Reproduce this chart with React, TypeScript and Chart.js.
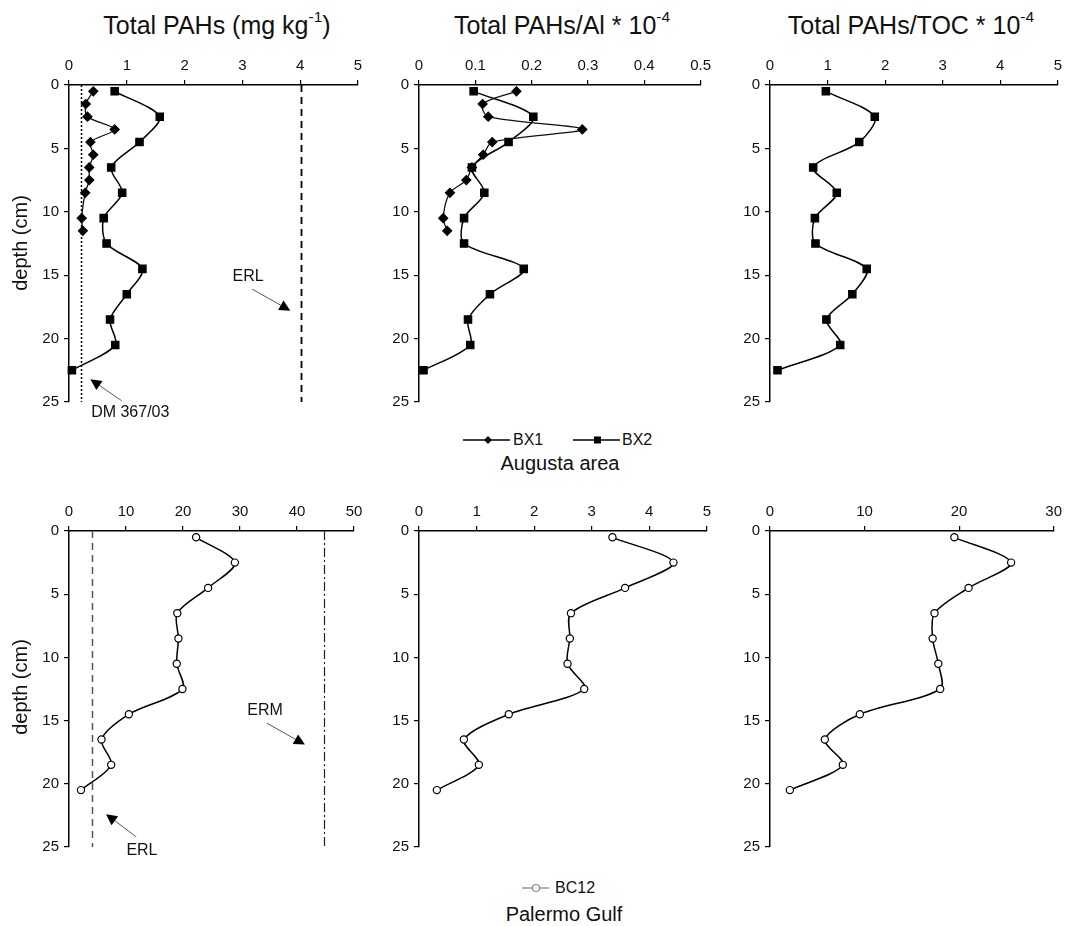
import React, { useEffect, useRef } from "react";
import { Chart, registerables } from "chart.js";

Chart.register(...registerables);

if (typeof document !== "undefined") {
  document.body.style.margin = "0";
  document.documentElement.style.overflow = "hidden";
}

const FONT = "'Liberation Sans', Arial, Helvetica, sans-serif";

// ---------- data ----------
// sampling depths (cm)
const depthBX1 = [0.5, 1.5, 2.5, 3.5, 4.5, 5.5, 6.5, 7.5, 8.5, 10.5, 11.5];
const depthBX2 = [0.5, 2.5, 4.5, 6.5, 8.5, 10.5, 12.5, 14.5, 16.5, 18.5, 20.5, 22.5];
const depthBC12 = [0.5, 2.5, 4.5, 6.5, 8.5, 10.5, 12.5, 14.5, 16.5, 18.5, 20.5];

// Augusta area
const bx1Total = [0.42, 0.29, 0.32, 0.79, 0.37, 0.42, 0.35, 0.35, 0.28, 0.22, 0.24];
const bx2Total = [0.79, 1.57, 1.22, 0.73, 0.92, 0.6, 0.65, 1.27, 1.0, 0.71, 0.8, 0.05];
const bx1Al = [0.173, 0.113, 0.123, 0.29, 0.13, 0.114, 0.094, 0.084, 0.055, 0.043, 0.05];
const bx2Al = [0.097, 0.203, 0.159, 0.094, 0.116, 0.08, 0.08, 0.186, 0.126, 0.087, 0.091, 0.008];
const bx2Toc = [0.97, 1.82, 1.55, 0.75, 1.16, 0.78, 0.79, 1.68, 1.43, 0.98, 1.22, 0.13];

// Palermo Gulf
const bc12Total = [22.3, 29.1, 24.4, 19.0, 19.2, 18.9, 19.9, 10.5, 5.7, 7.4, 2.1];
const bc12Al = [3.36, 4.42, 3.58, 2.64, 2.62, 2.58, 2.87, 1.56, 0.78, 1.04, 0.31];
const bc12Toc = [19.5, 25.5, 21.0, 17.4, 17.2, 17.8, 18.0, 9.5, 5.8, 7.7, 2.1];

// guideline values (mg/kg)
const dmLimit = 0.2;
const erlValue = 4.022;
const ermValue = 44.792;

// axis ranges
const depthMax = 25;
const depthStep = 5;
const xRanges = {
  totalA: { max: 5, step: 1 },
  alA: { max: 0.5, step: 0.1 },
  tocA: { max: 5, step: 1 },
  totalP: { max: 50, step: 10 },
  alP: { max: 5, step: 1 },
  tocP: { max: 30, step: 10 },
};

// ---------- styles ----------
const BX1_STYLE = { pointStyle: "rectRot", pointRadius: 4.5, fill: "#000", stroke: "#000", line: "#111", lw: 1.3 };
const BX2_STYLE = { pointStyle: "rect", pointRadius: 5.2, fill: "#000", stroke: "#000", line: "#000", lw: 1.5 };
const BC12_STYLE = { pointStyle: "circle", pointRadius: 3.6, fill: "#fff", stroke: "#000", line: "#000", lw: 1.5 };

type Series = { depth: number[]; values: number[]; style: any };
type RefLine = { value: number; dash: number[]; width: number; color: string };
type Note = { text: string; tx: number; ty: number; x1: number; y1: number; x2: number; y2: number };

type PanelDef = {
  left: number; top: number; width: number; height: number;
  yw: number; xh: number; pr: number; pb: number;
  range: { max: number; step: number };
  series: Series[];
  refs: RefLine[];
  notes: Note[];
};

function drawArrow(ctx: CanvasRenderingContext2D, x1: number, y1: number, x2: number, y2: number) {
  const ang = Math.atan2(y2 - y1, x2 - x1);
  const L = 11, W = 5.5;
  const bx = x2 - L * Math.cos(ang), by = y2 - L * Math.sin(ang);
  ctx.save();
  ctx.strokeStyle = "#555";
  ctx.lineWidth = 1;
  ctx.setLineDash([]);
  ctx.beginPath();
  ctx.moveTo(x1, y1);
  ctx.lineTo(bx, by);
  ctx.stroke();
  ctx.fillStyle = "#000";
  ctx.beginPath();
  ctx.moveTo(x2, y2);
  ctx.lineTo(bx + W * Math.sin(ang), by - W * Math.cos(ang));
  ctx.lineTo(bx - W * Math.sin(ang), by + W * Math.cos(ang));
  ctx.closePath();
  ctx.fill();
  ctx.restore();
}

function overlayPlugin(refs: RefLine[], notes: Note[]) {
  return {
    id: "overlay",
    beforeDatasetsDraw(chart: any) {
      const { ctx, scales } = chart;
      const xs = scales.x, ys = scales.y;
      refs.forEach((r) => {
        const px = Math.round(xs.getPixelForValue(r.value)) + 0.5;
        ctx.save();
        ctx.strokeStyle = r.color;
        ctx.lineWidth = r.width;
        ctx.setLineDash(r.dash);
        ctx.beginPath();
        ctx.moveTo(px, ys.getPixelForValue(0));
        ctx.lineTo(px, ys.getPixelForValue(depthMax));
        ctx.stroke();
        ctx.restore();
      });
    },
    afterDraw(chart: any) {
      const { ctx, scales } = chart;
      const xs = scales.x, ys = scales.y;
      notes.forEach((n) => {
        drawArrow(ctx, xs.getPixelForValue(n.x1), ys.getPixelForValue(n.y1), xs.getPixelForValue(n.x2), ys.getPixelForValue(n.y2));
        ctx.save();
        ctx.fillStyle = "#111";
        ctx.font = `16px ${FONT}`;
        ctx.textAlign = "center";
        ctx.textBaseline = "middle";
        ctx.fillText(n.text, xs.getPixelForValue(n.tx), ys.getPixelForValue(n.ty));
        ctx.restore();
      });
    },
  };
}

function makeConfig(p: PanelDef): any {
  const tickFont = { family: FONT, size: 15 };
  return {
    type: "scatter",
    data: {
      datasets: p.series.map((s) => ({
        data: s.depth.map((d, i) => ({ x: s.values[i], y: d })),
        showLine: true,
        borderColor: s.style.line,
        borderWidth: s.style.lw,
        pointStyle: s.style.pointStyle,
        pointRadius: s.style.pointRadius,
        pointBackgroundColor: s.style.fill,
        pointBorderColor: s.style.stroke,
        pointBorderWidth: 1.2,
        tension: 0.3,
        fill: false,
        clip: false,
      })),
    },
    options: {
      animation: false,
      responsive: false,
      maintainAspectRatio: false,
      layout: { padding: { left: 0, top: 0, right: p.pr, bottom: p.pb } },
      plugins: { legend: { display: false }, tooltip: { enabled: false }, title: { display: false } },
      scales: {
        x: {
          type: "linear",
          position: "top",
          min: 0,
          max: p.range.max,
          ticks: { stepSize: p.range.step, padding: 5, font: tickFont, color: "#111", maxRotation: 0, autoSkip: false },
          grid: { drawOnChartArea: false, drawTicks: true, tickLength: 5, color: "#000", lineWidth: 1.2 },
          border: { display: true, color: "#000", width: 1.5 },
          afterFit: (s: any) => { s.height = p.xh; },
        },
        y: {
          type: "linear",
          position: "left",
          reverse: true,
          min: 0,
          max: depthMax,
          ticks: { stepSize: depthStep, padding: 5, font: tickFont, color: "#111", autoSkip: false },
          grid: { drawOnChartArea: false, drawTicks: true, tickLength: 5, color: "#000", lineWidth: 1.2 },
          border: { display: true, color: "#000", width: 1.5 },
          afterFit: (s: any) => { s.width = p.yw; },
        },
      },
    },
    plugins: [overlayPlugin(p.refs, p.notes)],
  };
}

function Panel({ def }: { def: PanelDef }) {
  const ref = useRef<HTMLCanvasElement>(null);
  useEffect(() => {
    const chart = new Chart(ref.current as HTMLCanvasElement, makeConfig(def));
    return () => chart.destroy();
  }, []);
  return (
    <canvas
      ref={ref}
      width={def.width}
      height={def.height}
      style={{ position: "absolute", left: def.left, top: def.top, width: def.width, height: def.height }}
    />
  );
}

// ---------- layout (page coordinates) ----------
const TOP_Y = 50, TOP_H = 375, BOT_Y = 496, BOT_H = 374;

const panels: PanelDef[] = [
  {
    left: 8, top: TOP_Y, width: 362, height: TOP_H, yw: 61, xh: 35, pr: 12, pb: 23,
    range: xRanges.totalA,
    series: [
      { depth: depthBX1, values: bx1Total, style: BX1_STYLE },
      { depth: depthBX2, values: bx2Total, style: BX2_STYLE },
    ],
    refs: [
      { value: dmLimit, dash: [2, 2], width: 1.5, color: "#000" },
      { value: erlValue, dash: [7, 5], width: 1.8, color: "#000" },
    ],
    notes: [
      { text: "ERL", tx: 3.1, ty: 15.1, x1: 3.17, y1: 16.1, x2: 3.83, y2: 17.8 },
      { text: "DM 367/03", tx: 1.06, ty: 25.8, x1: 0.91, y1: 24.9, x2: 0.37, y2: 23.2 },
    ],
  },
  {
    left: 370, top: TOP_Y, width: 346, height: TOP_H, yw: 49, xh: 35, pr: 14, pb: 23,
    range: xRanges.alA,
    series: [
      { depth: depthBX1, values: bx1Al, style: BX1_STYLE },
      { depth: depthBX2, values: bx2Al, style: BX2_STYLE },
    ],
    refs: [],
    notes: [],
  },
  {
    left: 716, top: TOP_Y, width: 351, height: TOP_H, yw: 54, xh: 35, pr: 7, pb: 23,
    range: xRanges.tocA,
    series: [{ depth: depthBX2, values: bx2Toc, style: BX2_STYLE }],
    refs: [],
    notes: [],
  },
  {
    left: 8, top: BOT_Y, width: 362, height: BOT_H, yw: 61, xh: 35, pr: 16, pb: 23,
    range: xRanges.totalP,
    series: [{ depth: depthBC12, values: bc12Total, style: BC12_STYLE }],
    refs: [
      { value: erlValue, dash: [7, 5], width: 1.5, color: "#555" },
      { value: ermValue, dash: [9, 3, 2, 3], width: 1.2, color: "#222" },
    ],
    notes: [
      { text: "ERM", tx: 34.4, ty: 14.2, x1: 34.7, y1: 15.2, x2: 41.4, y2: 16.9 },
      { text: "ERL", tx: 12.8, ty: 25.25, x1: 11.8, y1: 24.2, x2: 6.5, y2: 22.4 },
    ],
  },
  {
    left: 370, top: BOT_Y, width: 346, height: BOT_H, yw: 49, xh: 35, pr: 8, pb: 23,
    range: xRanges.alP,
    series: [{ depth: depthBC12, values: bc12Al, style: BC12_STYLE }],
    refs: [],
    notes: [],
  },
  {
    left: 716, top: BOT_Y, width: 351, height: BOT_H, yw: 54, xh: 35, pr: 11, pb: 23,
    range: xRanges.tocP,
    series: [{ depth: depthBC12, values: bc12Toc, style: BC12_STYLE }],
    refs: [],
    notes: [],
  },
];

function Text({ cx, cy, size, rotate, children }: any) {
  return (
    <div
      style={{
        position: "absolute",
        left: cx,
        top: cy,
        transform: `translate(-50%, -50%)${rotate ? " rotate(-90deg)" : ""}`,
        whiteSpace: "nowrap",
        fontFamily: FONT,
        fontSize: size,
        lineHeight: 1.15,
        color: "#111",
      }}
    >
      {children}
    </div>
  );
}

const sup = (t: string) => (
  <sup style={{ fontSize: "0.62em", verticalAlign: "0", position: "relative", top: "-0.75em" }}>{t}</sup>
);

function LegendMark({ x, y, kind, color }: { x: number; y: number; kind: string; color: string }) {
  return (
    <svg width={50} height={14} style={{ position: "absolute", left: x, top: y - 7 }}>
      <line x1={0} y1={7} x2={kind === "circle" ? 27 : 47} y2={7} stroke={color} strokeWidth={1.3} />
      {kind === "diamond" && <polygon points="25,3 29,7 25,11 21,7" fill="#000" />}
      {kind === "square" && <rect x={21} y={3.5} width={7} height={7} fill="#000" />}
      {kind === "circle" && <circle cx={14} cy={7} r={3.5} fill="#fff" stroke={color} strokeWidth={1.2} />}
    </svg>
  );
}

export default function App() {
  const legendText = (x: number, y: number, t: string) => (
    <div style={{ position: "absolute", left: x, top: y - 9, fontFamily: FONT, fontSize: 16, lineHeight: "18px", color: "#111" }}>{t}</div>
  );
  return (
    <div style={{ position: "relative", width: 1067, height: 926, overflow: "hidden", background: "#fff" }}>
      {panels.map((p, i) => (
        <Panel key={i} def={p} />
      ))}
      <Text cx={217} cy={25} size={25}>Total PAHs (mg kg{sup("-1")})</Text>
      <Text cx={562} cy={25} size={25}>Total PAHs/Al * 10{sup("-4")}</Text>
      <Text cx={911} cy={25} size={25}>Total PAHs/TOC * 10{sup("-4")}</Text>
      <Text cx={20} cy={243} size={20} rotate>depth (cm)</Text>
      <Text cx={20} cy={687} size={20} rotate>depth (cm)</Text>

      <LegendMark x={463} y={440} kind="diamond" color="#000" />
      {legendText(513, 440, "BX1")}
      <LegendMark x={573} y={440} kind="square" color="#000" />
      {legendText(622, 440, "BX2")}
      <Text cx={560} cy={463} size={20}>Augusta area</Text>

      <LegendMark x={522} y={888} kind="circle" color="#888" />
      {legendText(555, 888, "BC12")}
      <Text cx={564} cy={914} size={20}>Palermo Gulf</Text>
    </div>
  );
}
